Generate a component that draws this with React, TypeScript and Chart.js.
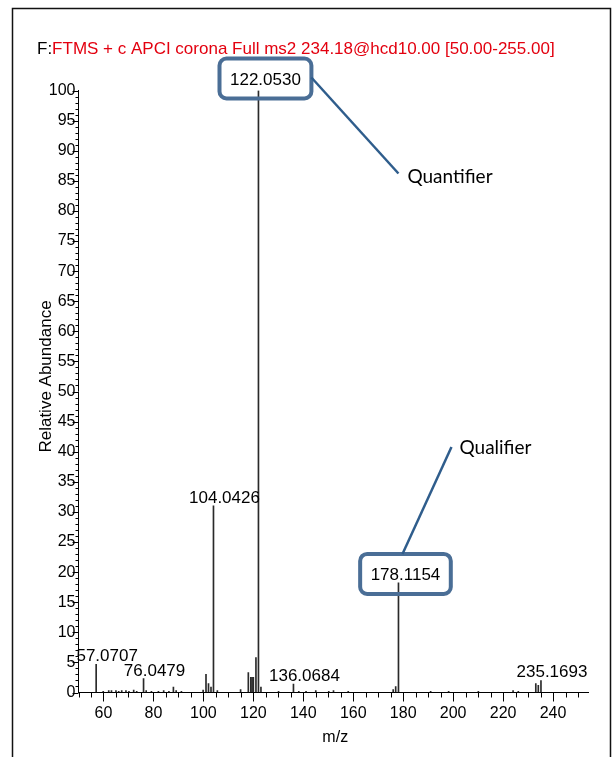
import React, { useEffect, useRef } from 'react';
import { Chart, registerables } from 'chart.js';

Chart.register(...registerables);

// m/z of every centroid peak (stick) in the spectrum
const peakMz = [
  57.0707, 59.9, 62.1, 63.2, 65.0, 66.1, 67.3, 69.0, 70.2, 72.1, 73.3,
  76.0479, 77.1, 79.2, 82.0, 84.1, 86.2, 88.0, 89.1, 91.2,
  99.9, 101.05, 102.05, 103.05, 104.0426, 105.6,
  114.9, 118.0, 119.0, 119.5, 120.0, 121.05, 122.053, 123.05,
  130.1, 136.0684, 138.2, 141.1, 145.0, 150.2, 152.1, 158.0,
  176.0, 177.0, 178.1154,
  191.0, 198.2, 210.1, 224.0, 226.1, 233.1, 234.1, 235.1693,
];
// relative abundance (%) of each peak above
const peakIntensity = [
  4.7, 0.2, 0.3, 0.3, 0.3, 0.2, 0.3, 0.3, 0.2, 0.4, 0.2,
  2.3, 0.3, 0.2, 0.2, 0.3, 0.2, 0.9, 0.3, 0.2,
  0.4, 3.0, 1.5, 0.9, 31.0, 0.3,
  0.5, 3.3, 2.5, 2.5, 2.5, 5.8, 100, 0.9,
  0.2, 1.4, 0.2, 0.2, 0.3, 0.2, 0.3, 0.2,
  0.5, 1.0, 18.2,
  0.2, 0.2, 0.2, 0.3, 0.2, 1.5, 1.2, 2.0,
];

// annotated peaks
const labeledMz = [57.0707, 76.0479, 104.0426, 122.053, 136.0684, 178.1154, 235.1693];
const labeledText = ['57.0707', '76.0479', '104.0426', '122.0530', '136.0684', '178.1154', '235.1693'];
const calloutMz = [122.053, 178.1154];
const calloutText = ['Quantifier', 'Qualifier'];

const xTickValues = [60, 80, 100, 120, 140, 160, 180, 200, 220, 240];
const yTickValues = [0, 5, 10, 15, 20, 25, 30, 35, 40, 45, 50, 55, 60, 65, 70, 75, 80, 85, 90, 95, 100];

const titlePrefix = 'F:';
const titleText = 'FTMS + c APCI corona Full ms2 234.18@hcd10.00 [50.00-255.00]';
const xTitle = 'm/z';
const yTitle = 'Relative Abundance';

const ARIAL = '"Liberation Sans", Arial, sans-serif';

const decorPlugin = {
  id: 'decor',
  afterDraw(chart: any) {
    const ctx = chart.ctx as CanvasRenderingContext2D;
    const xs = chart.scales.x;
    const ys = chart.scales.y;
    const area = chart.chartArea;
    ctx.save();

    // outer frame
    ctx.strokeStyle = '#111';
    ctx.lineWidth = 1.5;
    ctx.beginPath();
    ctx.moveTo(12.5, 800);
    ctx.lineTo(12.5, 8.5);
    ctx.lineTo(610.5, 8.5);
    ctx.lineTo(610.5, 800);
    ctx.stroke();

    // title
    ctx.font = `17px ${ARIAL}`;
    ctx.textBaseline = 'alphabetic';
    ctx.textAlign = 'left';
    ctx.fillStyle = '#000';
    ctx.fillText(titlePrefix, 37, 54);
    const pw = ctx.measureText(titlePrefix).width;
    ctx.fillStyle = '#e3000f';
    ctx.fillText(titleText, 37 + pw, 54);

    // tick marks
    ctx.strokeStyle = '#000';
    ctx.lineWidth = 1;
    ctx.beginPath();
    for (let v = ys.min; v <= ys.max; v += 1) {
      const py = Math.round(ys.getPixelForValue(v)) + 0.5;
      const len = v % 5 === 0 ? 6 : 3;
      ctx.moveTo(area.left - len, py);
      ctx.lineTo(area.left, py);
    }
    for (let v = 50; v <= xs.max; v += 5) {
      const px = Math.round(xs.getPixelForValue(v)) + 0.5;
      const len = v % 20 === 0 ? 9 : 5;
      ctx.moveTo(px, area.bottom);
      ctx.lineTo(px, area.bottom + len);
    }
    ctx.stroke();

    // axis titles
    ctx.fillStyle = '#000';
    ctx.font = `16px ${ARIAL}`;
    ctx.textAlign = 'center';
    ctx.textBaseline = 'middle';
    ctx.fillText(xTitle, (area.left + area.right) / 2 + 2, area.bottom + 45);
    ctx.font = `17px ${ARIAL}`;
    ctx.save();
    ctx.translate(area.left - 32, (area.top + area.bottom) / 2 - 15);
    ctx.rotate(-Math.PI / 2);
    ctx.fillText(yTitle, 0, 0);
    ctx.restore();

    // peak labels
    ctx.font = `17px ${ARIAL}`;
    ctx.textBaseline = 'alphabetic';
    labeledMz.forEach((mz, i) => {
      const idx = peakMz.indexOf(mz);
      const val = peakIntensity[idx];
      const px = xs.getPixelForValue(mz);
      const py = ys.getPixelForValue(val);
      const ci = calloutMz.indexOf(mz);
      const boxed = ci >= 0;
      const cx = px + (boxed ? 7 : 11);
      const base = py - (boxed ? (val >= 100 ? 6 : 3) : 3);
      ctx.fillStyle = '#000';
      ctx.textAlign = 'center';
      ctx.fillText(labeledText[i], cx, base);
      if (boxed) {
        const w = ctx.measureText(labeledText[i]).width + 21;
        const h = 40;
        const cy = base - 6;
        const bx = cx - w / 2;
        const by = cy - h / 2;
        ctx.strokeStyle = '#4a6e96';
        ctx.lineWidth = 4;
        ctx.beginPath();
        (ctx as any).roundRect(bx, by, w, h, 7);
        ctx.stroke();

        // callout leader + caption
        ctx.strokeStyle = '#2f5d8c';
        ctx.lineWidth = 2.5;
        ctx.beginPath();
        let tx = 0;
        let ty = 0;
        if (ci === 0) {
          ctx.moveTo(bx + w, cy - 1);
          ctx.lineTo(px + 140, py + 83);
          tx = px + 149;
          ty = py + 92;
        } else {
          ctx.moveTo(px + 4, by);
          ctx.lineTo(px + 53, by - 107);
          tx = px + 61;
          ty = by - 100;
        }
        ctx.stroke();
        ctx.font = '19px Lato, "Open Sans", sans-serif';
        ctx.textAlign = 'left';
        ctx.fillStyle = '#000';
        ctx.fillText(calloutText[ci], tx, ty);
        ctx.font = `17px ${ARIAL}`;
      }
    });

    ctx.restore();
  },
};

export default function App() {
  const ref = useRef<HTMLCanvasElement | null>(null);

  useEffect(() => {
    if (!ref.current) return;
    const chart = new Chart(ref.current, {
      type: 'bar',
      data: {
        datasets: [
          {
            data: peakMz.map((x, i) => ({ x, y: peakIntensity[i] })),
            backgroundColor: '#2a2a2a',
            borderWidth: 0,
            barThickness: 1,
          } as any,
        ],
      },
      options: {
        responsive: false,
        animation: false,
        devicePixelRatio: 1,
        layout: { padding: { left: 38.5, right: 27, top: 90.5, bottom: 34.5 } },
        plugins: { legend: { display: false }, tooltip: { enabled: false } },
        scales: {
          x: {
            type: 'linear',
            min: 50,
            max: 254,
            offset: false,
            afterBuildTicks: (s: any) => {
              s.ticks = xTickValues.map((v) => ({ value: v }));
            },
            afterFit: (s: any) => {
              s.height = 30;
            },
            grid: {
              display: true,
              drawOnChartArea: false,
              drawTicks: true,
              tickLength: 8,
              color: 'rgba(0,0,0,0)',
            },
            border: { display: true, color: '#000', width: 1 },
            ticks: {
              autoSkip: false,
              maxRotation: 0,
              padding: 3,
              color: '#000',
              font: { family: ARIAL, size: 16 },
            },
          },
          y: {
            type: 'linear',
            min: 0,
            max: 100,
            afterBuildTicks: (s: any) => {
              s.ticks = yTickValues.map((v) => ({ value: v }));
            },
            afterFit: (s: any) => {
              s.width = 40;
            },
            grid: { display: true, drawOnChartArea: false, drawTicks: false, color: 'rgba(0,0,0,0)' },
            border: { display: true, color: '#000', width: 1 },
            ticks: {
              autoSkip: false,
              padding: 3,
              color: '#000',
              font: { family: ARIAL, size: 16 },
            },
          },
        },
      } as any,
      plugins: [decorPlugin],
    });
    return () => chart.destroy();
  }, []);

  return (
    <div style={{ position: 'fixed', left: 0, top: 0, width: 615, height: 757, background: '#fff' }}>
      <canvas ref={ref} width={615} height={757} style={{ width: 615, height: 757, display: 'block' }} />
    </div>
  );
}
